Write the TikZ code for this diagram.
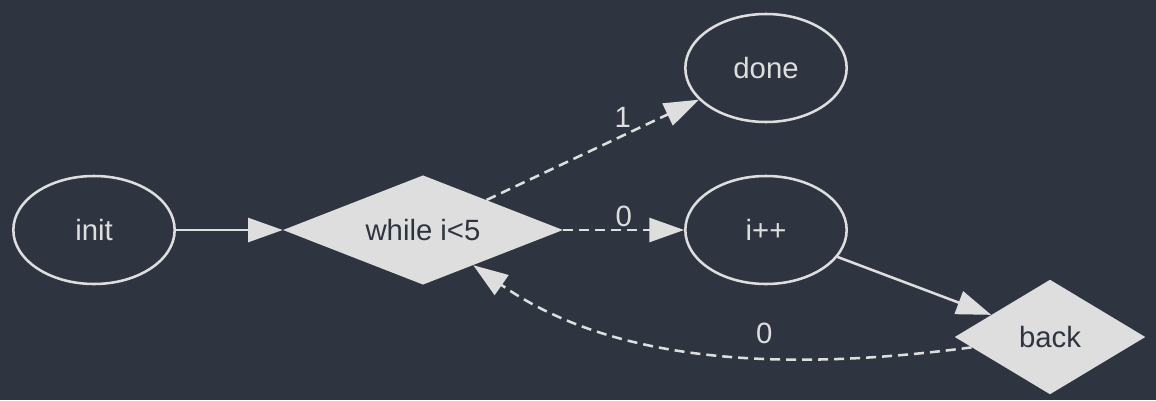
\documentclass[tikz,border=0pt]{standalone}
\usepackage{fontspec}
\setmainfont{Liberation Sans}
\usetikzlibrary{shapes.geometric,arrows.meta}

\definecolor{bgcol}{HTML}{2F3540}
\definecolor{inkcol}{HTML}{DEDEDE}

\tikzset{
	state/.style={ellipse, draw=inkcol, line width=1.9pt, text=inkcol, inner sep=0pt,
		minimum width=121pt, minimum height=81pt, font=\fontsize{22}{26}\selectfont},
	test/.style={diamond, fill=inkcol, text=bgcol, inner sep=0pt, shape aspect=2.5,
		font=\fontsize{22}{26}\selectfont},
	flow/.style={draw=inkcol, line width=1.9pt, -{Triangle[length=26pt, width=18pt]}},
	branch/.style={flow, dash pattern=on 7.5pt off 4.5pt},
	lbl/.style={text=inkcol, font=\fontsize{22}{26}\selectfont, inner sep=1.5pt}
}

\begin{document}
\begin{tikzpicture}[x=0.75pt, y=-0.75pt]

\fill[bgcol] (0,0) rectangle (1156,400);
\useasboundingbox (0,0) rectangle (1156,400);

\node[state] (init) at (94,230)		{init};
\node[test, minimum width=210pt, minimum height=82pt] (while) at (423,230)	{while i<5};
\node[state] (done) at (766,68)		{done};
\node[state] (incr) at (766,230)	{i++};
\node[test, minimum width=143pt, minimum height=86pt] (back) at (1050,337)	{back};

\path (init) edge [flow] (while);
\path (while) edge [branch] node[lbl, pos=0.66, above, xshift=-3pt, yshift=2pt] {1} (done);
\path (while) edge [branch] node[lbl, above] {0} (incr);
\path (incr) edge [flow] (back);
\draw [branch] (back) .. controls (800,370) and (620,368) .. node[lbl, pos=0.4, above=8pt] {0} (while);

\end{tikzpicture}
\end{document}
